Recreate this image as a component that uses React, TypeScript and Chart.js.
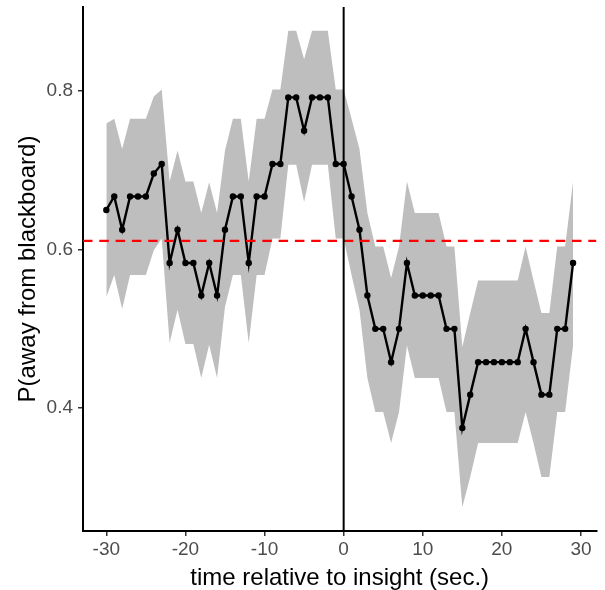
import React, { useEffect, useRef } from "react";
import { Chart, registerables } from "chart.js";

Chart.register(...registerables);

// time relative to insight (sec.)
const times = [
  -30, -29, -28, -27, -26, -25, -24, -23, -22, -21,
  -20, -19, -18, -17, -16, -15, -14, -13, -12, -11,
  -10, -9, -8, -7, -6, -5, -4, -3, -2, -1,
  0, 1, 2, 3, 4, 5, 6, 7, 8, 9,
  10, 11, 12, 13, 14, 15, 16, 17, 18, 19,
  20, 21, 22, 23, 24, 25, 26, 27, 28, 29,
];

// P(away from blackboard)
const meanP = [
  0.65, 0.667, 0.625, 0.667, 0.667, 0.667, 0.696, 0.708, 0.583, 0.625,
  0.583, 0.583, 0.542, 0.583, 0.542, 0.625, 0.667, 0.667, 0.583, 0.667,
  0.667, 0.708, 0.708, 0.792, 0.792, 0.75, 0.792, 0.792, 0.792, 0.708,
  0.708, 0.667, 0.625, 0.542, 0.5, 0.5, 0.458, 0.5, 0.583, 0.542,
  0.542, 0.542, 0.542, 0.5, 0.5, 0.375, 0.417, 0.458, 0.458, 0.458,
  0.458, 0.458, 0.458, 0.5, 0.458, 0.417, 0.417, 0.5, 0.5, 0.583,
];

const upperP = [
  0.759, 0.765, 0.727, 0.765, 0.765, 0.765, 0.793, 0.802, 0.686, 0.725,
  0.686, 0.686, 0.646, 0.685, 0.646, 0.725, 0.765, 0.765, 0.686, 0.765,
  0.765, 0.802, 0.802, 0.876, 0.876, 0.84, 0.876, 0.876, 0.876, 0.802,
  0.802, 0.765, 0.727, 0.646, 0.604, 0.604, 0.564, 0.604, 0.686, 0.646,
  0.646, 0.646, 0.646, 0.604, 0.604, 0.477, 0.52, 0.561, 0.561, 0.561,
  0.561, 0.561, 0.561, 0.604, 0.561, 0.52, 0.52, 0.604, 0.604, 0.686,
];

const lowerP = [
  0.54, 0.568, 0.525, 0.568, 0.568, 0.568, 0.599, 0.614, 0.482, 0.524,
  0.481, 0.481, 0.438, 0.48, 0.438, 0.528, 0.568, 0.568, 0.482, 0.568,
  0.568, 0.614, 0.614, 0.707, 0.707, 0.66, 0.707, 0.707, 0.707, 0.614,
  0.614, 0.568, 0.524, 0.438, 0.395, 0.395, 0.356, 0.395, 0.479, 0.438,
  0.438, 0.438, 0.438, 0.395, 0.395, 0.275, 0.313, 0.356, 0.356, 0.356,
  0.356, 0.356, 0.356, 0.395, 0.356, 0.313, 0.313, 0.395, 0.395, 0.479,
];

const baselineP = 0.611;
const insightTime = 0;

const xTicks = [-30, -20, -10, 0, 10, 20, 30];
const yTicks = [0.4, 0.6, 0.8];

const FONT = "'Liberation Sans', Arial, Helvetica, sans-serif";

const refLines = {
  id: "refLines",
  afterDatasetsDraw(chart: any) {
    const { ctx, chartArea, scales } = chart;
    const y = scales.y.getPixelForValue(baselineP);
    const x = scales.x.getPixelForValue(insightTime);
    ctx.save();
    ctx.beginPath();
    ctx.rect(chartArea.left, chartArea.top, chartArea.right - chartArea.left, chartArea.bottom - chartArea.top);
    ctx.clip();
    ctx.strokeStyle = "#ff0000";
    ctx.lineWidth = 2.3;
    ctx.setLineDash([9.5, 6.8]);
    ctx.beginPath();
    ctx.moveTo(chartArea.left, y);
    ctx.lineTo(chartArea.right, y);
    ctx.stroke();
    ctx.setLineDash([]);
    ctx.strokeStyle = "#000000";
    ctx.lineWidth = 2;
    ctx.beginPath();
    ctx.moveTo(x, chartArea.top);
    ctx.lineTo(x, chartArea.bottom);
    ctx.stroke();
    ctx.restore();
  },
};

export default function App() {
  const ref = useRef<HTMLCanvasElement | null>(null);

  useEffect(() => {
    if (!ref.current) return;
    const lo = Math.min(...lowerP);
    const hi = Math.max(...upperP);
    const yPad = (hi - lo) * 0.05;
    const tMin = Math.min(...times);
    const tMax = Math.max(...times);
    const xPad = (tMax - tMin) * 0.05;

    const pts = (arr: number[]) => times.map((t, i) => ({ x: t, y: arr[i] }));

    const chart = new Chart(ref.current, {
      type: "line",
      data: {
        datasets: [
          {
            data: pts(upperP),
            borderWidth: 0,
            borderColor: "rgba(0,0,0,0)",
            pointRadius: 0,
            fill: false,
            tension: 0,
          },
          {
            data: pts(lowerP),
            borderWidth: 0,
            borderColor: "rgba(0,0,0,0)",
            backgroundColor: "#bebebe",
            pointRadius: 0,
            fill: "-1",
            tension: 0,
          },
          {
            data: pts(meanP),
            borderColor: "#000000",
            borderWidth: 2.4,
            pointRadius: 3.2,
            pointBackgroundColor: "#000000",
            pointBorderWidth: 0,
            fill: false,
            tension: 0,
          },
        ],
      },
      options: {
        responsive: false,
        animation: false,
        layout: { padding: { top: 7, right: 8.6, left: 0, bottom: 0 } },
        plugins: {
          legend: { display: false },
          tooltip: { enabled: false },
          filler: { drawTime: "beforeDatasetsDraw" },
        },
        scales: {
          x: {
            type: "linear",
            min: tMin - xPad,
            max: tMax + xPad,
            afterBuildTicks: (s: any) => {
              s.ticks = xTicks.map((v) => ({ value: v }));
            },
            afterFit: (s: any) => {
              s.height = 59;
              s.paddingLeft = 0;
              s.paddingRight = 0;
            },
            grid: {
              display: true,
              drawOnChartArea: false,
              drawTicks: true,
              tickLength: 5,
              color: "#333333",
              lineWidth: 1.5,
            },
            border: { display: true, color: "#000000", width: 2 },
            ticks: {
              color: "#4d4d4d",
              font: { family: FONT, size: 19 },
              padding: 2,
              maxRotation: 0,
              autoSkip: false,
              callback: (v: any) => String(v),
            },
            title: {
              display: true,
              text: "time relative to insight (sec.)",
              color: "#000000",
              font: { family: FONT, size: 24, lineHeight: 1 },
              padding: { top: 0, bottom: 0 },
            },
          },
          y: {
            type: "linear",
            min: lo - yPad,
            max: hi + yPad,
            afterBuildTicks: (s: any) => {
              s.ticks = yTicks.map((v) => ({ value: v }));
            },
            afterFit: (s: any) => {
              s.width = 83;
              s.paddingTop = 0;
              s.paddingBottom = 0;
            },
            grid: {
              display: true,
              drawOnChartArea: false,
              drawTicks: true,
              tickLength: 5,
              color: "#333333",
              lineWidth: 1.5,
            },
            border: { display: true, color: "#000000", width: 2 },
            ticks: {
              color: "#4d4d4d",
              font: { family: FONT, size: 19 },
              padding: 5,
              callback: (v: any) => Number(v).toFixed(1),
            },
            title: {
              display: true,
              text: "P(away from blackboard)",
              color: "#000000",
              font: { family: FONT, size: 24, lineHeight: 1 },
              padding: { top: 16, bottom: 0 },
            },
          },
        },
      },
      plugins: [refLines],
    });
    return () => chart.destroy();
  }, []);

  return (
    <div style={{ position: "absolute", left: 0, top: 0, width: 605, height: 590, background: "#fff" }}>
      <canvas ref={ref} width={605} height={590} />
    </div>
  );
}
